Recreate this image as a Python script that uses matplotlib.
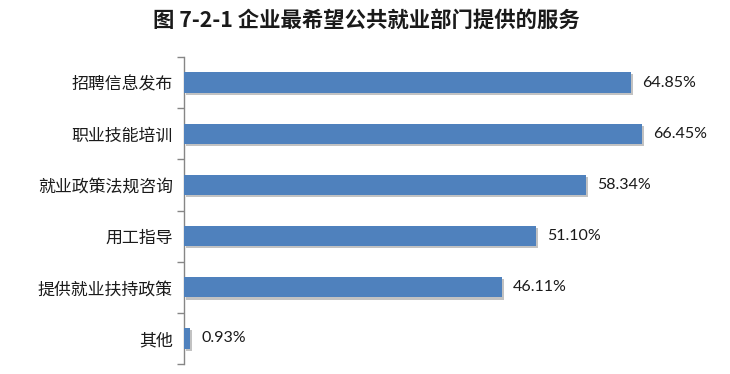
import matplotlib.pyplot as plt
import matplotlib.patheffects as pe
import numpy as np

plt.rcParams['font.family'] = ['Noto Sans CJK SC', 'DejaVu Sans']

# 数据
categories = ['招聘信息发布', '职业技能培训', '就业政策法规咨询', '用工指导', '提供就业扶持政策', '其他']
values = [64.85, 66.45, 58.34, 51.10, 46.11, 0.93]
value_labels = ['64.85%', '66.45%', '58.34%', '51.10%', '46.11%', '0.93%']
title = '图 7-2-1 企业最希望公共就业部门提供的服务'

fig = plt.figure(figsize=(7.3, 3.74), dpi=100)
ax = fig.add_axes([184 / 730, 1 - 364 / 374, 517 / 730, 307 / 374])

y = np.arange(len(categories))
bars = ax.barh(y, values, height=0.4, color='#4F81BD', zorder=3)
for b in bars:
    b.set_path_effects([pe.SimplePatchShadow(offset=(1.5, -1.5), shadow_rgbFace='#9a9a9a', alpha=0.6),
                        pe.Normal()])

for yi, v, lab in zip(y, values, value_labels):
    ax.annotate(lab, (v, yi), xytext=(8, 0), textcoords='offset points',
                ha='left', va='center', fontsize=11.5, family=['Lato', 'DejaVu Sans'],
                color='#1a1a1a')

ax.set_xlim(0, 75)
ax.set_ylim(len(categories) - 0.5, -0.5)
ax.set_yticks(y)
ax.set_yticklabels(categories, fontsize=12.2, color='#1a1a1a')
ax.set_yticks(np.arange(-0.5, len(categories)), minor=True)
ax.tick_params(axis='y', which='major', length=0, pad=8)
ax.tick_params(axis='y', which='minor', length=5, color='#868686', width=1)
ax.set_xticks([])
for s in ['top', 'right', 'bottom']:
    ax.spines[s].set_visible(False)
ax.spines['left'].set_color('#868686')
ax.spines['left'].set_linewidth(1)

fig.text(366 / 730, 1 - 20 / 374, title, ha='center', va='center',
         fontsize=15.4, fontweight='bold', color='#1a1a1a')

fig.savefig('out.png', dpi=100)
